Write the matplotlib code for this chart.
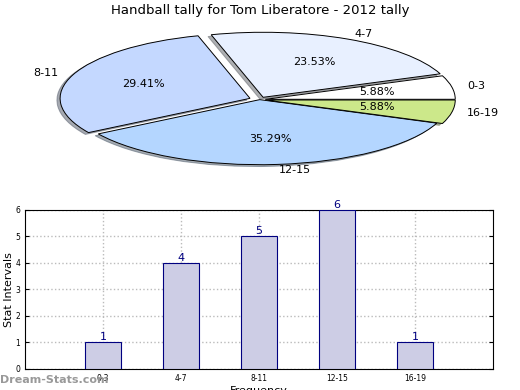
import numpy as np
import matplotlib
matplotlib.use('Agg')
import matplotlib.pyplot as plt

# data
categories = ['0-3', '4-7', '8-11', '12-15', '16-19']
counts = [1, 4, 5, 6, 1]
pie_colors = ['#ffffff', '#e8f0ff', '#c4d8ff', '#b4d6ff', '#cce88a']
explode = [0.03, 0.04, 0.055, 0.0, 0.03]

fig = plt.figure(figsize=(5.2, 3.9), dpi=100)

# pie (squashed into an ellipse)
ax1 = fig.add_axes([0.043, 0.536, 0.913, 0.417])
wedges, texts, autotexts = ax1.pie(
    counts, labels=categories, colors=pie_colors, explode=explode,
    startangle=0, counterclock=True, autopct='%.2f%%', pctdistance=0.6,
    labeldistance=1.08, shadow=dict(ox=-0.012, oy=-0.02, shade=0.6),
    wedgeprops=dict(edgecolor='black', linewidth=0.7),
    textprops=dict(fontsize=8))
ax1.set_aspect('auto')
ax1.set_xlim(-1.25, 1.25)
ax1.set_ylim(-1.25, 1.25)
fig.text(0.5, 0.974, 'Handball tally for Tom Liberatore - 2012 tally',
         ha='center', va='center', fontsize=9.5)

# bars
ax2 = fig.add_axes([0.048, 0.054, 0.9, 0.408])
x = np.arange(len(categories))
ax2.bar(x, counts, width=0.46, color='#cdcde5',
        edgecolor='#000080', linewidth=0.8, zorder=3)
for xi, v in zip(x, counts):
    ax2.text(xi, v, str(v), ha='center', va='bottom', color='#000080',
             fontsize=8, zorder=4)
ax2.set_xlim(-1, 5)
ax2.set_ylim(0, 6)
ax2.set_xticks(x)
ax2.set_xticklabels(categories, fontsize=5.5)
ax2.set_yticks(range(7))
ax2.tick_params(axis='y', labelsize=5.5, direction='in', right=True, length=3)
ax2.tick_params(axis='x', direction='in', top=False, length=3)
ax2.grid(True, color='#bbbbbb', linestyle=':', linewidth=1.0, zorder=0)
ax2.set_axisbelow(True)
ax2.set_ylabel('Stat Intervals', fontsize=8, labelpad=1)
ax2.set_xlabel('Frequency', fontsize=8, labelpad=2)

fig.text(0.0, 0.025, 'Dream-Stats.com', color='#999999', fontsize=8,
         fontweight='bold', ha='left', va='center')

fig.savefig('out.png', dpi=100)
